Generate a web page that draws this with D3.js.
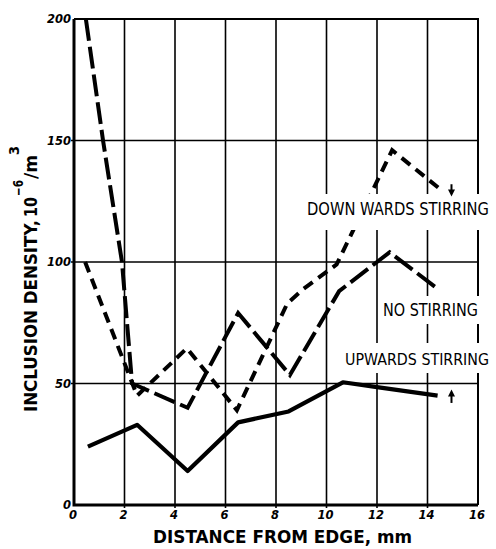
<!DOCTYPE html>
<html>
<head>
<meta charset="utf-8">
<script src="https://cdn.jsdelivr.net/npm/d3@7"></script>
<style>
  html, body { margin: 0; padding: 0; background: #fff; }
  svg { display: block; }
</style>
</head>
<body>
<svg id="chart" width="496" height="549"></svg>
<script>
// ---- data ----
const xTicks = [0, 2, 4, 6, 8, 10, 12, 14, 16];
const yTicks = [0, 50, 100, 150, 200];

const noStirringX = [0.47, 1.15, 1.9, 2.3, 4.5, 6.5, 8.55, 10.5, 12.5, 14.4];
const noStirringY = [200, 150, 100, 50, 40, 79, 53.5, 88, 104, 89];

const downwardsX = [0.44, 2.5, 4.47, 6.45, 8.45, 9.1, 10.4, 12.6, 14.5];
const downwardsY = [100, 45, 64.5, 39, 83, 89, 99, 146, 130];

const upwardsX = [0.55, 2.5, 4.5, 6.5, 8.5, 10.65, 12.0, 14.4];
const upwardsY = [24, 33, 14, 34, 38.5, 50.5, 48.5, 45];

const labels = ["DOWN WARDS STIRRING", "NO STIRRING", "UPWARDS STIRRING"];
const xTitle = "DISTANCE FROM EDGE, mm";

// ---- layout ----
const svg = d3.select("#chart");
const x = d3.scaleLinear().domain([0, 16]).range([74, 478]);
const y = d3.scaleLinear().domain([0, 200]).range([505, 19]);

const toPts = (xs, ys) => xs.map((v, i) => [v, ys[i]]);
const line = d3.line().x(d => x(d[0])).y(d => y(d[1]));

// grid
const g = svg.append("g");
g.selectAll("line.vg").data(xTicks.filter(t => t > 0 && t < 16)).join("line")
  .attr("x1", d => x(d)).attr("x2", d => x(d))
  .attr("y1", y(200)).attr("y2", y(0) + 3)
  .attr("stroke", "#000").attr("stroke-width", 1.6);
g.selectAll("line.hg").data(yTicks.filter(t => t > 0 && t < 200)).join("line")
  .attr("x1", x(0) - 3).attr("x2", x(16))
  .attr("y1", d => y(d)).attr("y2", d => y(d))
  .attr("stroke", "#000").attr("stroke-width", 1.6);

// frame
g.append("path")
  .attr("d", `M${x(0)},${y(200)} H${x(16)} V${y(0)}`)
  .attr("fill", "none").attr("stroke", "#000").attr("stroke-width", 2);
g.append("path")
  .attr("d", `M${x(0)},${y(200)} V${y(0)} H${x(16)}`)
  .attr("fill", "none").attr("stroke", "#000").attr("stroke-width", 3);

// series
svg.append("path").datum(toPts(noStirringX, noStirringY))
  .attr("d", line).attr("fill", "none").attr("stroke", "#000")
  .attr("stroke-width", 4).attr("stroke-dasharray", "22,6");
svg.append("path").datum(toPts(downwardsX, downwardsY))
  .attr("d", line).attr("fill", "none").attr("stroke", "#000")
  .attr("stroke-width", 4).attr("stroke-dasharray", "11,7");
svg.append("path").datum(toPts(upwardsX, upwardsY))
  .attr("d", line).attr("fill", "none").attr("stroke", "#000")
  .attr("stroke-width", 4.2).attr("stroke-linejoin", "round");

// labels with white boxes
const labelBoxes = [
  { t: labels[0], x0: 303, x1: 494, y0: 194, y1: 230, tx: 307, tw: 182, by: 215, fs: 17 },
  { t: labels[1], x0: 378, x1: 484, y0: 296, y1: 324, tx: 383, tw: 95, by: 316, fs: 18 },
  { t: labels[2], x0: 340, x1: 494, y0: 343, y1: 373, tx: 345, tw: 144, by: 365, fs: 16.5 }
];
labelBoxes.forEach(b => {
  svg.append("rect").attr("x", b.x0).attr("y", b.y0)
    .attr("width", b.x1 - b.x0).attr("height", b.y1 - b.y0).attr("fill", "#fff");
  svg.append("text").attr("x", b.tx).attr("y", b.by)
    .attr("font-family", "'Liberation Sans Narrow', 'DejaVu Sans Condensed', 'Liberation Sans', sans-serif")
    .attr("font-size", b.fs)
    .attr("textLength", b.tw).attr("lengthAdjust", "spacingAndGlyphs")
    .attr("fill", "#000").text(b.t);
});

// arrows
function arrow(xv, fromV, toV) {
  const x0 = x(xv), ya = y(fromV), yb = y(toV);
  const dir = Math.sign(yb - ya);
  svg.append("line").attr("x1", x0).attr("x2", x0).attr("y1", ya).attr("y2", yb - dir * 4)
    .attr("stroke", "#000").attr("stroke-width", 2);
  svg.append("path")
    .attr("d", `M${x0 - 3.5},${yb - dir * 7} L${x0 + 3.5},${yb - dir * 7} L${x0},${yb} Z`)
    .attr("fill", "#000");
}
arrow(14.95, 132, 127);
arrow(14.95, 42, 47.5);

// tick labels
svg.selectAll("text.xt").data(xTicks).join("text")
  .attr("x", d => x(d) - 1).attr("y", 519)
  .attr("text-anchor", "middle")
  .attr("font-family", "DejaVu Sans").attr("font-weight", "bold").attr("font-style", "italic")
  .attr("font-size", 11.5).text(d => d);
svg.selectAll("text.yt").data(yTicks).join("text")
  .attr("x", 71).attr("y", d => y(d) + 4)
  .attr("text-anchor", "end")
  .attr("font-family", "DejaVu Sans").attr("font-weight", "bold").attr("font-style", "italic")
  .attr("font-size", 11.5).text(d => d);

// x title
svg.append("text").attr("x", 153).attr("y", 543)
  .attr("font-family", "DejaVu Sans").attr("font-weight", "bold").attr("font-size", 18)
  .attr("textLength", 259).attr("lengthAdjust", "spacingAndGlyphs")
  .text(xTitle);

// y title (rotated), pieces placed along the rotated axis
const yt = svg.append("g").attr("transform", "translate(37,412) rotate(-90)");
const ypieces = [
  { t: "INCLUSION DENSITY,", x: 0, w: 192, dy: 0, fs: 18 },
  { t: "10", x: 195, w: 20, dy: 0, fs: 18 },
  { t: "\u22126", x: 216, w: 16, dy: -14, fs: 14 },
  { t: "/m", x: 233, w: 24, dy: 0, fs: 18 },
  { t: "3", x: 257, w: 9, dy: -18, fs: 14 }
];
ypieces.forEach(p => {
  yt.append("text").attr("x", p.x).attr("y", p.dy)
    .attr("font-family", "DejaVu Sans").attr("font-weight", "bold").attr("font-size", p.fs)
    .attr("textLength", p.w).attr("lengthAdjust", "spacingAndGlyphs")
    .text(p.t);
});
</script>
</body>
</html>
